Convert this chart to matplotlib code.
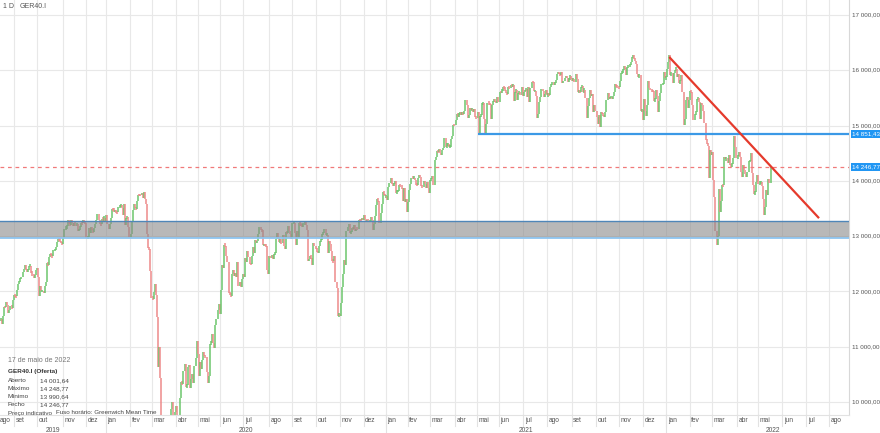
import matplotlib.pyplot as plt
import matplotlib.transforms as mtransforms

plt.rcParams['font.family'] = ['Liberation Sans', 'DejaVu Sans']

MONTHS = ["jan", "fev", "mar", "abr", "mai", "jun", "jul", "ago", "set", "out", "nov", "dez"]

# daily closes, one inner list per month (2019 starts on 14 Aug)
c2019 = [
    [11493, 11412, 11563, 11715, 11712, 11802, 11747, 11612, 11658, 11730, 11701, 11838, 11939],
    [11911, 11910, 12025, 12126, 12192, 12226, 12268, 12360, 12410, 12469, 12380, 12372, 12389, 12457, 12468,
     12342, 12307, 12234, 12289, 12381, 12428],
    [12263, 11925, 12097, 12012, 12013, 11970, 12094, 12164, 12511, 12486, 12629, 12670, 12654, 12633, 12748,
     12754, 12810, 12894, 12942, 12939, 12910, 12867, 12866],
    [12961, 13136, 13158, 13180, 13289, 13228, 13199, 13283, 13230, 13180, 13242, 13208, 13221, 13087, 13137,
     13163, 13246, 13230, 13287, 13245, 13236],
    [12965, 12989, 13140, 13055, 13166, 13105, 13071, 13141, 13222, 13283, 13407, 13287, 13222, 13212, 13319,
     13300, 13337, 13249],
]
c2020 = [
    [13386, 13219, 13127, 13227, 13320, 13495, 13483, 13452, 13456, 13432, 13429, 13526, 13549, 13555, 13515,
     13388, 13577, 13204, 13324, 13345, 13158, 12982],
    [13045, 13281, 13479, 13575, 13514, 13494, 13627, 13749, 13745, 13744, 13784, 13681, 13790, 13664, 13579,
     13035, 12790, 12775, 12367, 11890],
    [11857, 11986, 12128, 11944, 11542, 10625, 11000, 10439, 9161, 9232, 8742, 8939, 8442, 8611, 8929,
     8742, 9701, 9874, 10000, 9633, 9816, 9936],
    [9544, 9571, 9525, 10075, 10357, 10333, 10564, 10696, 10280, 10301, 10626, 10675, 10250, 10416, 10513,
     10337, 10659, 10796, 11108, 10862],
    [10467, 10730, 10606, 10759, 10904, 10825, 10820, 10542, 10337, 10465, 11058, 11075, 11223, 11066, 10982,
     11391, 11504, 11657, 11781, 11587],
    [12021, 12487, 12431, 12848, 12820, 12642, 12530, 11970, 11949, 11911, 12315, 12382, 12281, 12331, 12262,
     12524, 12094, 12178, 12089, 12233, 12311],
    [12260, 12608, 12528, 12733, 12617, 12495, 12490, 12634, 12800, 12697, 12930, 12874, 12920, 13047, 13171,
     13104, 13103, 12838, 12839, 12836, 12822, 12380, 12313],
    [12647, 12601, 12660, 12591, 12674, 12687, 12947, 13058, 12993, 12901, 12920, 12881, 13028, 12830, 12765,
     13066, 13062, 13191, 13097, 13033, 12945],
    [13243, 13243, 13057, 12842, 13100, 12968, 13237, 13209, 13202, 13193, 13217, 13255, 13208, 13116, 12542,
     12595, 12642, 12607, 12469, 12870, 12826, 12761],
    [12730, 12689, 12828, 12906, 12928, 13042, 13051, 13138, 13019, 13028, 12704, 12909, 12854, 12736, 12558,
     12543, 12646, 12178, 12064, 11560, 11598, 11556],
    [11788, 12089, 12324, 12568, 12480, 13095, 13163, 13216, 13053, 13077, 13139, 13133, 13201, 13086, 13137,
     13127, 13292, 13289, 13286, 13335, 13291],
    [13382, 13313, 13252, 13298, 13271, 13278, 13340, 13295, 13114, 13223, 13362, 13566, 13667, 13630, 13246,
     13418, 13588, 13790, 13761, 13718],
]
c2021 = [
    [13727, 13651, 13892, 13968, 14050, 13937, 13925, 13940, 14003, 13788, 13816, 13816, 13922, 13907, 13874,
     13643, 13871, 13620, 13665, 13433],
    [13622, 13836, 13934, 14060, 14056, 14060, 14011, 13933, 13932, 14050, 14109, 14065, 13909, 13887, 13993,
     13950, 13865, 13976, 13879, 13786],
    [14012, 14039, 14080, 13920, 14380, 14437, 14540, 14528, 14569, 14502, 14461, 14557, 14597, 14776, 14621,
     14657, 14662, 14611, 14621, 14749, 14818, 15009, 15008],
    [15107, 15212, 15176, 15202, 15234, 15215, 15234, 15209, 15255, 15460, 15368, 15130, 15196, 15320, 15280,
     15296, 15249, 15292, 15154, 15136],
    [15237, 14856, 15171, 15197, 15400, 15400, 15120, 14851, 15031, 15417, 15395, 15386, 15113, 15370, 15438,
     15465, 15451, 15407, 15519, 15421],
    [15603, 15602, 15633, 15693, 15677, 15640, 15581, 15571, 15693, 15674, 15729, 15710, 15727, 15448, 15603,
     15637, 15456, 15589, 15608, 15554, 15691, 15531],
    [15604, 15650, 15661, 15511, 15692, 15420, 15688, 15790, 15789, 15629, 15629, 15540, 15133, 15216, 15422,
     15514, 15669, 15618, 15519, 15570, 15640, 15544],
    [15568, 15555, 15692, 15745, 15761, 15745, 15770, 15826, 15937, 15977, 15925, 15922, 15965, 15765, 15808,
     15852, 15905, 15860, 15793, 15852, 15888, 15835],
    [15824, 15841, 15781, 15932, 15843, 15610, 15623, 15609, 15701, 15722, 15616, 15652, 15491, 15132, 15349,
     15506, 15644, 15532, 15574, 15249, 15365, 15261],
    [15157, 15037, 15195, 14973, 15250, 15207, 15200, 15147, 15250, 15462, 15587, 15474, 15515, 15523, 15472,
     15543, 15600, 15757, 15705, 15696, 15689],
    [15806, 15955, 15959, 16030, 16054, 16047, 15912, 16067, 16083, 16094, 16148, 16248, 16251, 16221, 16160,
     16115, 15937, 15878, 15917, 15257, 15280, 15100],
    [15472, 15263, 15170, 15380, 15814, 15687, 15639, 15623, 15622, 15453, 15476, 15636, 15531, 15240, 15447,
     15593, 15756, 15757, 15964, 15853, 15885],
]
c2022 = [
    [16020, 16152, 16271, 15910, 15948, 15768, 15942, 16010, 16031, 15883, 15933, 15772, 15810, 15912, 15603,
     15011, 15123, 15460, 15524, 15318, 15471],
    [15619, 15613, 15368, 15100, 15207, 15242, 15482, 15490, 15425, 15113, 15412, 15370, 15267, 15042, 14731,
     14693, 14631, 14052, 14567, 14461],
    [14520, 14011, 13700, 13094, 12832, 13008, 13848, 13442, 13628, 13929, 13917, 14440, 14388, 14413, 14326,
     14474, 14284, 14273, 14306, 14417, 14820, 14606, 14415],
    [14446, 14518, 14424, 14152, 14078, 14284, 14193, 14124, 14076, 14164, 14362, 14363, 14502, 14143, 13924,
     13756, 13795, 13979, 14098],
    [13939, 13970, 13971, 13902, 13674, 13381, 13534, 13828, 13739, 14027, 13964, 14247],
]
# trading days still to come: rest of May, Jun, Jul 2022
future_days = [10, 22, 21]

y_ticks = [10000, 11000, 12000, 13000, 14000, 15000, 16000, 17000]
band_lo, band_hi = 12964, 13271
support = 14851.43
last_price = 14246.77
trend_start = 16240      # 5 Jan 2022
trend_end = 13325        # ~44 bars after last bar
trend_end_offset = 44

info_lines = [("Aberto", "14 001,64"), ("Máximo", "14 248,77"),
              ("Mínimo", "13 990,64"), ("Fecho", "14 246,77")]


def fmt(v):
    s = f"{v:,.2f}"
    return s.replace(",", " ").replace(".", ",")


# flatten to bar index
closes = []
month_starts = []  # (index, month_number, year)
for year, months, first in [(2019, c2019, 8), (2020, c2020, 1), (2021, c2021, 1), (2022, c2022, 1)]:
    for i, m in enumerate(months):
        month_starts.append((len(closes), first + i, year))
        closes.extend(m)
n = len(closes)
pos = n
mnum = 5
for d in future_days:
    pos += d
    mnum += 1
    month_starts.append((pos, mnum, 2022))

W, H = 880, 433
fig = plt.figure(figsize=(W / 100, H / 100), dpi=100)
ax = fig.add_axes([0, 18 / H, 849 / W, 415 / H])
px = 770 / (n - 1)
x_left = -0.5
x_right = x_left + 849 / px
ax.set_xlim(x_left, x_right)
ax.set_ylim(9765, 17271)
ax.set_xticks([])
ax.set_yticks([])
for s in ["top", "left"]:
    ax.spines[s].set_visible(False)
ax.spines["right"].set_color("#d8d8d8")
ax.spines["bottom"].set_color("#e2e2e2")
ax.spines["right"].set_linewidth(0.8)
ax.spines["bottom"].set_linewidth(0.8)

blend = mtransforms.blended_transform_factory(ax.transData, ax.transAxes)
blend_y = mtransforms.blended_transform_factory(ax.transAxes, ax.transData)

# grid
for v in y_ticks:
    ax.axhline(v, color="#e8e8e8", lw=0.8, zorder=0)
for idx, mn, yr in month_starts[1:]:
    ax.axvline(idx - 0.5, color="#e8e8e8", lw=0.8, zorder=0)

# bars: previous close -> close
xs, lo, hi, cols = [], [], [], []
prev = closes[0]
for i, c in enumerate(closes):
    a, b = min(prev, c), max(prev, c)
    if b - a < 40:
        a -= 20
        b += 20
    xs.append(i)
    lo.append(a)
    hi.append(b)
    cols.append("#6cc66c" if c >= prev else "#ee8a8a")
    prev = c
ax.vlines(xs, lo, hi, colors=cols, lw=1.1, zorder=2)

# zone, levels and trend line
ax.axhspan(band_lo, band_hi, fc="#8a8a8a", alpha=0.6, ec="none", zorder=3)
ax.axhline(band_hi, color="#4f86b8", lw=1.0, zorder=4)
ax.axhline(band_lo, color="#8ec5f0", lw=1.3, zorder=4)
ax.axhline(last_price, color="#f07a7a", lw=0.9, ls=(0, (3, 3)), zorder=2)
sup_start = [i for i, m, y in month_starts if m == 5 and y == 2021][0]
ax.hlines(support, sup_start, x_right, color="#3b99e6", lw=1.6, zorder=4)
jan22 = [i for i, m, y in month_starts if m == 1 and y == 2022][0]
ax.plot([jan22 + 2, n - 1 + trend_end_offset], [trend_start, trend_end],
        color="#e53a2c", lw=1.6, zorder=5, solid_capstyle="butt")

# right price axis
for v in y_ticks:
    ax.text(1.003, v, fmt(v), transform=blend_y, ha="left", va="center",
            fontsize=4.5, color="#555555", clip_on=False)
for v in [support, last_price]:
    ax.text(1.004, v, fmt(v), transform=blend_y, ha="left", va="center",
            fontsize=4.5, color="white", clip_on=False,
            bbox=dict(boxstyle="square,pad=0.2", fc="#2196f3", ec="none"))

# month / year rows
row_h = 11 / 415
for idx, mn, yr in month_starts:
    if idx == 0:
        xl = x_left
    else:
        xl = idx - 0.5 + 1.5 / px
        ax.plot([idx - 0.5, idx - 0.5], [0, -row_h], transform=blend, color="#e2e2e2",
                lw=0.8, clip_on=False)
    ax.text(xl, -6 / 415, MONTHS[mn - 1], transform=blend, ha="left", va="center",
            fontsize=4.8, color="#555555", clip_on=False)

year_edges = [0]
for idx, mn, yr in month_starts:
    if mn == 1:
        year_edges.append(ax.transData.transform((idx - 0.5, 0))[0])
year_edges.append(W)
for k, yr in enumerate([2019, 2020, 2021, 2022]):
    cx = (year_edges[k] + year_edges[k + 1]) / 2
    fig.text(cx / W, 1 - 430 / H, str(yr), ha="center", va="center", fontsize=4.8, color="#555555")
    if 0 < k:
        xe = year_edges[k] / W
        fig.add_artist(plt.Line2D([xe, xe], [0, 18 / H], color="#e2e2e2", lw=0.8))

# header and info box
fig.text(3 / W, 1 - 7 / H, "1 D", fontsize=5, color="#555555", va="center")
fig.text(20 / W, 1 - 7 / H, "GER40.I", fontsize=5, color="#555555", va="center")
fig.text(8 / W, 1 - 360 / H, "17 de maio de 2022", fontsize=5, color="#777777", va="center")
fig.text(8 / W, 1 - 372 / H, "GER40.I (Oferta)", fontsize=4.6, color="#333333",
         va="center", fontweight="bold")
for k, (lab, val) in enumerate(info_lines):
    yy = 1 - (381 + 8 * k) / H
    fig.text(8 / W, yy, lab, fontsize=4.6, color="#444444", va="center")
    fig.text(40 / W, yy, val, fontsize=4.6, color="#444444", va="center")
fig.text(8 / W, 1 - 413 / H, "Preço indicativo", fontsize=4.5, color="#444444", va="center")
fig.text(56 / W, 1 - 413 / H, "Fuso horário: Greenwich Mean Time", fontsize=4.5,
         color="#444444", va="center")

fig.savefig("out.png", dpi=100)
